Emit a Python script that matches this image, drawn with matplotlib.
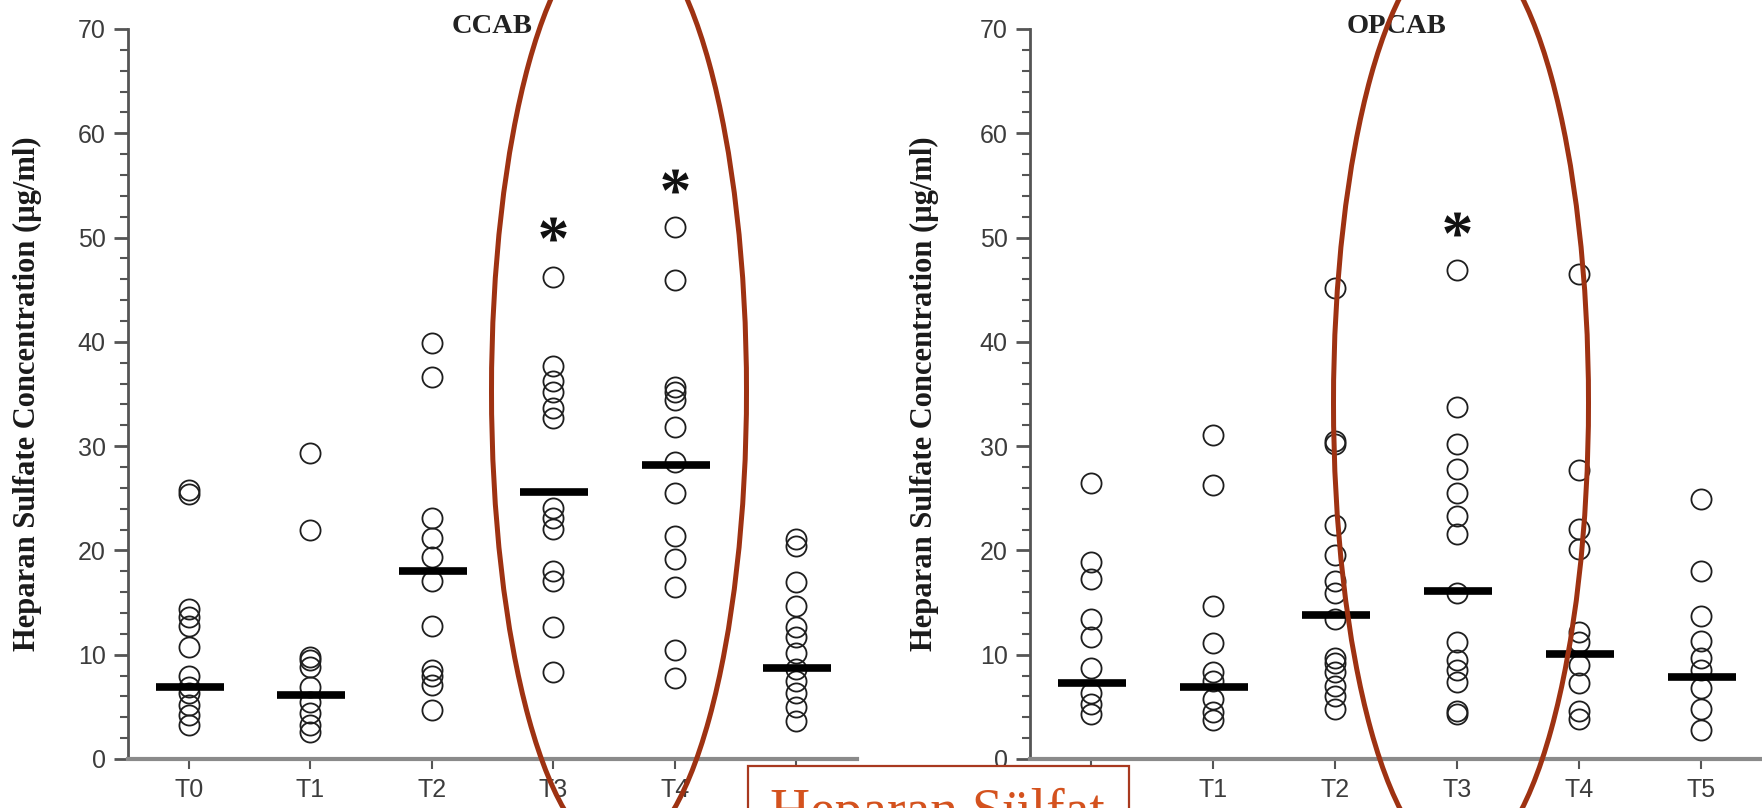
import numpy as np
import matplotlib.pyplot as plt
from matplotlib.patches import Ellipse, Rectangle
from matplotlib.ticker import MultipleLocator
from matplotlib.textpath import TextPath
from matplotlib.font_manager import FontProperties
from matplotlib.path import Path

W, H = 1762, 808

groups = ["T0", "T1", "T2", "T3", "T4", "T5"]

# CCAB - individual values per time point
ccab_t0 = [25.8, 25.4, 14.4, 13.6, 12.8, 10.7, 8.0, 6.9, 6.3, 5.2, 4.2, 3.3]
ccab_t1 = [29.3, 22.0, 9.8, 9.5, 8.8, 6.9, 5.5, 4.4, 3.3, 2.6]
ccab_t2 = [39.9, 36.6, 23.1, 21.2, 19.4, 17.1, 12.8, 8.5, 8.0, 7.1, 4.7]
ccab_t3 = [46.2, 37.7, 36.2, 35.2, 33.7, 32.7, 24.1, 23.1, 22.1, 18.0, 17.1, 12.7, 8.3]
ccab_t4 = [51.0, 45.9, 35.7, 35.2, 34.4, 31.8, 28.5, 25.5, 21.4, 19.2, 16.5, 10.5, 7.8]
ccab_t5 = [21.1, 20.4, 17.0, 14.7, 12.7, 11.7, 10.2, 8.6, 7.5, 6.3, 5.0, 3.6]
ccab_median = [6.9, 6.1, 18.0, 25.6, 28.2, 8.7]
ccab_stars = {3: 50.8, 4: 55.4}

# OPCAB
opcab_t0 = [26.5, 18.9, 17.3, 13.4, 11.7, 8.7, 6.3, 5.3, 4.3]
opcab_t1 = [31.1, 26.3, 14.7, 11.1, 8.3, 7.5, 5.8, 4.5, 3.7]
opcab_t2 = [45.2, 30.5, 30.2, 22.4, 19.6, 17.1, 15.9, 13.4, 9.7, 9.2, 8.3, 7.0, 6.0, 4.8]
opcab_t3 = [46.9, 33.8, 30.2, 27.8, 25.5, 23.3, 21.6, 15.9, 11.2, 9.5, 8.5, 7.4, 4.6, 4.3]
opcab_t4 = [46.5, 27.7, 22.1, 20.1, 12.2, 11.2, 9.0, 7.3, 4.6, 3.8]
opcab_t5 = [24.9, 18.0, 13.7, 11.3, 9.7, 8.5, 6.8, 4.8, 2.8]
opcab_median = [7.3, 6.9, 13.8, 16.1, 10.1, 7.9]
opcab_stars = {3: 51.3}

ylabel = "Heparan Sulfate Concentration (\u00b5g/ml)"
box_text = "Heparan S\u00fclfat"

fig = plt.figure(figsize=(W / 100, H / 100), dpi=100)

# bold serif asterisk as a centred marker
_tp = TextPath((0, 0), "*", prop=FontProperties(family='Liberation Serif', weight='bold'))
_v = _tp.vertices.copy()
_real = _tp.codes != Path.CLOSEPOLY
_v -= (_v[_real].min(axis=0) + _v[_real].max(axis=0)) / 2
_v[~_real] = 0
star_marker = Path(_v, _tp.codes)


def px_axes(x0, x1, y_top, y_bot):
    return fig.add_axes([x0 / W, 1 - y_bot / H, (x1 - x0) / W, (y_bot - y_top) / H])


def draw_panel(ax, data, medians, stars, title, label_x):
    for i, vals in enumerate(data):
        ax.plot([i] * len(vals), vals, 'o', mfc='none', mec='#1e1e1e',
                ms=14.5, mew=1.3, zorder=2)
    ax.hlines(medians, np.arange(len(medians)) - 0.27, np.arange(len(medians)) + 0.29,
              color='black', lw=5.5, zorder=3)
    for i, v in stars.items():
        ax.plot(i, v, marker=star_marker, ms=19, color='#111111', mew=0, ls='none')

    ax.set_xlim(-0.5, 5.5)
    ax.set_ylim(0, 70)
    ax.set_xticks(range(len(groups)))
    ax.set_xticklabels(groups)
    ax.yaxis.set_major_locator(MultipleLocator(10))
    ax.yaxis.set_minor_locator(MultipleLocator(2))

    for s in ['top', 'right']:
        ax.spines[s].set_visible(False)
    ax.spines['left'].set_color('#555555')
    ax.spines['left'].set_linewidth(2)
    ax.spines['bottom'].set_color('#8a8a8a')
    ax.spines['bottom'].set_linewidth(3)

    ax.tick_params(axis='y', which='major', length=10, width=2, color='#555555',
                   labelsize=18, labelcolor='#3c3c3c', pad=6)
    ax.tick_params(axis='y', which='minor', length=6, width=1.5, color='#555555')
    ax.tick_params(axis='x', which='major', length=7, width=1.5, color='#555555',
                   labelsize=18, labelcolor='#3c3c3c', pad=7)
    for lab in ax.get_xticklabels() + ax.get_yticklabels():
        lab.set_family('Liberation Sans')

    ax.text(0.5, 0.994, title, transform=ax.transAxes, ha='center', va='baseline',
            fontsize=20.5, fontweight='bold', family='Liberation Serif', color='#222')
    ax.set_ylabel(ylabel, fontsize=22, fontweight='bold', family='Liberation Serif',
                  color='#1a1a1a')
    ax.yaxis.set_label_coords(label_x, 0.5)


ax1 = px_axes(128, 857, 29, 759)
draw_panel(ax1, [ccab_t0, ccab_t1, ccab_t2, ccab_t3, ccab_t4, ccab_t5],
           ccab_median, ccab_stars, "CCAB", -0.118)

ax2 = px_axes(1030, 1762, 29, 759)
draw_panel(ax2, [opcab_t0, opcab_t1, opcab_t2, opcab_t3, opcab_t4, opcab_t5],
           opcab_median, opcab_stars, "OPCAB", -0.124)

# annotation overlay (pixel coordinates of the slide)
ov = fig.add_axes([0, 0, 1, 1], facecolor='none')
ov.set_xlim(0, W)
ov.set_ylim(H, 0)
ov.axis('off')
ring = '#9e3212'
ov.add_patch(Ellipse((619, 391), 255, 927, fill=False, ec=ring, lw=3.6))
ov.add_patch(Ellipse((1461, 403), 255, 924, fill=False, ec=ring, lw=3.6))
ov.add_patch(Rectangle((748, 766), 381, 80, fc='white', ec='#a8391f', lw=1.6))
ov.text(770, 828, box_text, ha='left', va='baseline', fontsize=40,
        family='Liberation Serif', color='#d4521e')

fig.savefig("out.png", dpi=100)
